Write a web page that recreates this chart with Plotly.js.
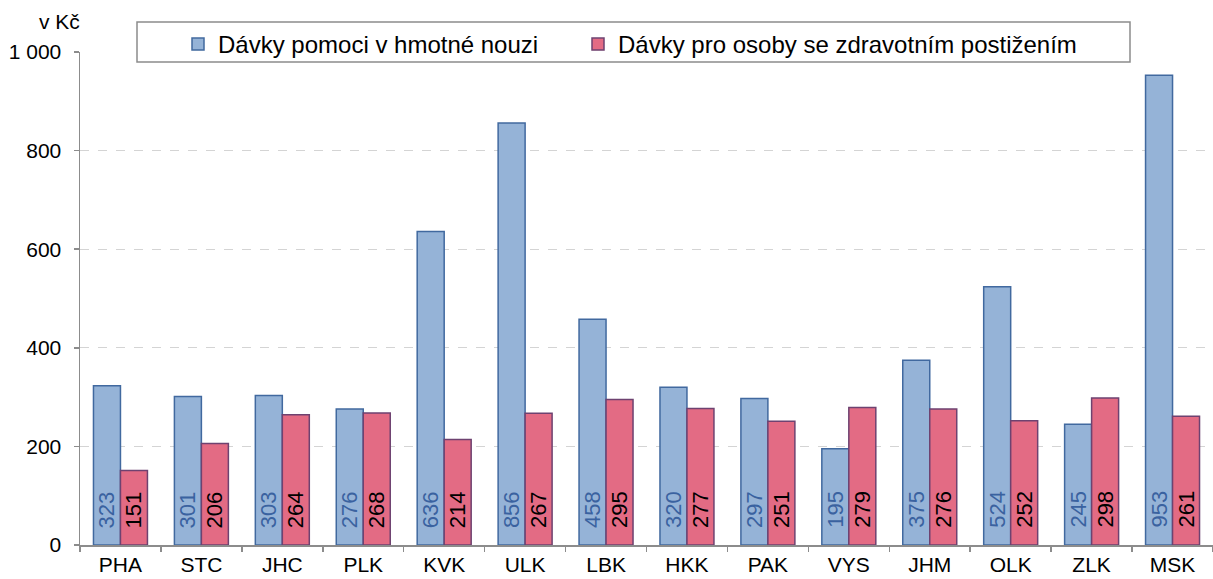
<!DOCTYPE html>
<html>
<head>
<meta charset="utf-8">
<script src="https://cdn.plot.ly/plotly-3.0.1.min.js"></script>
<style>html,body{margin:0;padding:0;background:#fff;}#chart{width:1213px;height:579px;}</style>
</head>
<body>
<div id="chart"></div>
<script>
const categories = ["PHA","STC","JHC","PLK","KVK","ULK","LBK","HKK","PAK","VYS","JHM","OLK","ZLK","MSK"];
const hmotnaNouze = [323,301,303,276,636,856,458,320,297,195,375,524,245,953];
const zdravotniPostizeni = [151,206,264,268,214,267,295,277,251,279,276,252,298,261];
const seriesNames = ["Dávky pomoci v hmotné nouzi","Dávky pro osoby se zdravotním postižením"];
const yTicks = [0,200,400,600,800,1000];

const FONT = "Liberation Sans, Arial, sans-serif";
const L = 80, R = 0, T = 52, B = 34, W = 1213, H = 579;
const PW = W - L - R, PH = H - T - B;
const BARGAP = 0.333;
const barPx = PW / categories.length * (1 - BARGAP) / 2;

const traces = [
  {
    type: "bar", name: seriesNames[0], x: categories, y: hmotnaNouze, legend: "legend",
    marker: {color: "#95b3d7", line: {color: "#41699f", width: 1.5}},
    hoverinfo: "x+y"
  },
  {
    type: "bar", name: seriesNames[1], x: categories, y: zdravotniPostizeni, legend: "legend2",
    marker: {color: "#e36b84", line: {color: "#6e4270", width: 1.5}},
    hoverinfo: "x+y"
  }
];

const labelAnn = [];
[[hmotnaNouze, -1, "#3a62a0"], [zdravotniPostizeni, 1, "#000000"]].forEach(([vals, side, col]) => {
  vals.forEach((v, i) => {
    labelAnn.push({
      text: String(v), x: categories[i], y: 0, xref: "x", yref: "y",
      xshift: side * barPx / 2, yshift: 15,
      xanchor: "center", yanchor: "bottom", textangle: -90, showarrow: false,
      font: {family: FONT, size: 22, color: col}
    });
  });
});

const legendBase = {
  orientation: "h", yanchor: "top", xanchor: "left", xref: "paper", yref: "paper",
  y: 1 + (T - 22) / PH,
  bgcolor: "rgba(0,0,0,0)", borderwidth: 0,
  font: {family: FONT, size: 24, color: "#000000"}
};

const layout = {
  width: W, height: H,
  margin: {l: L, r: R, t: T, b: B, pad: 0},
  paper_bgcolor: "#ffffff", plot_bgcolor: "#ffffff",
  font: {family: FONT, size: 20, color: "#000000"},
  separators: ", ",
  barmode: "group", bargap: BARGAP, bargroupgap: 0,
  showlegend: true,
  legend: Object.assign({}, legendBase, {x: (178 - L) / PW}),
  legend2: Object.assign({}, legendBase, {x: (578 - L) / PW}),
  xaxis: {
    type: "category", showgrid: false, zeroline: false,
    showline: true, linecolor: "#8c8c8c", linewidth: 1.5,
    ticks: "outside", tickson: "boundaries", ticklen: 5, tickcolor: "#8c8c8c", tickwidth: 1.5,
    tickfont: {family: FONT, size: 21, color: "#000000"},
    fixedrange: true
  },
  yaxis: {
    range: [0, 1000], tickvals: yTicks, tickformat: ",d",
    showgrid: true, gridcolor: "#d4d4d4", griddash: "dash", gridwidth: 1,
    zeroline: false, showline: true, linecolor: "#8c8c8c", linewidth: 1.5,
    ticks: "outside", ticklen: 5, tickcolor: "#8c8c8c", tickwidth: 1.5,
    ticklabelstandoff: 8,
    tickfont: {family: FONT, size: 21, color: "#000000"},
    fixedrange: true
  },
  shapes: [
    {type: "rect", xref: "paper", yref: "paper", layer: "above",
     x0: (137 - L) / PW, x1: (1130 - L) / PW,
     y0: (H - B - 62) / PH, y1: (H - B - 22) / PH,
     fillcolor: "#ffffff", line: {color: "#8c8c8c", width: 1.5}}
  ],
  annotations: labelAnn.concat([
    {text: "v Kč", xref: "paper", yref: "paper", x: (59 - L) / PW, y: (H - B - 22) / PH,
     xanchor: "center", yanchor: "middle", showarrow: false,
     font: {family: FONT, size: 21, color: "#000000"}}
  ])
};

Plotly.newPlot("chart", traces, layout, {displayModeBar: false, staticPlot: true});
</script>
</body>
</html>
